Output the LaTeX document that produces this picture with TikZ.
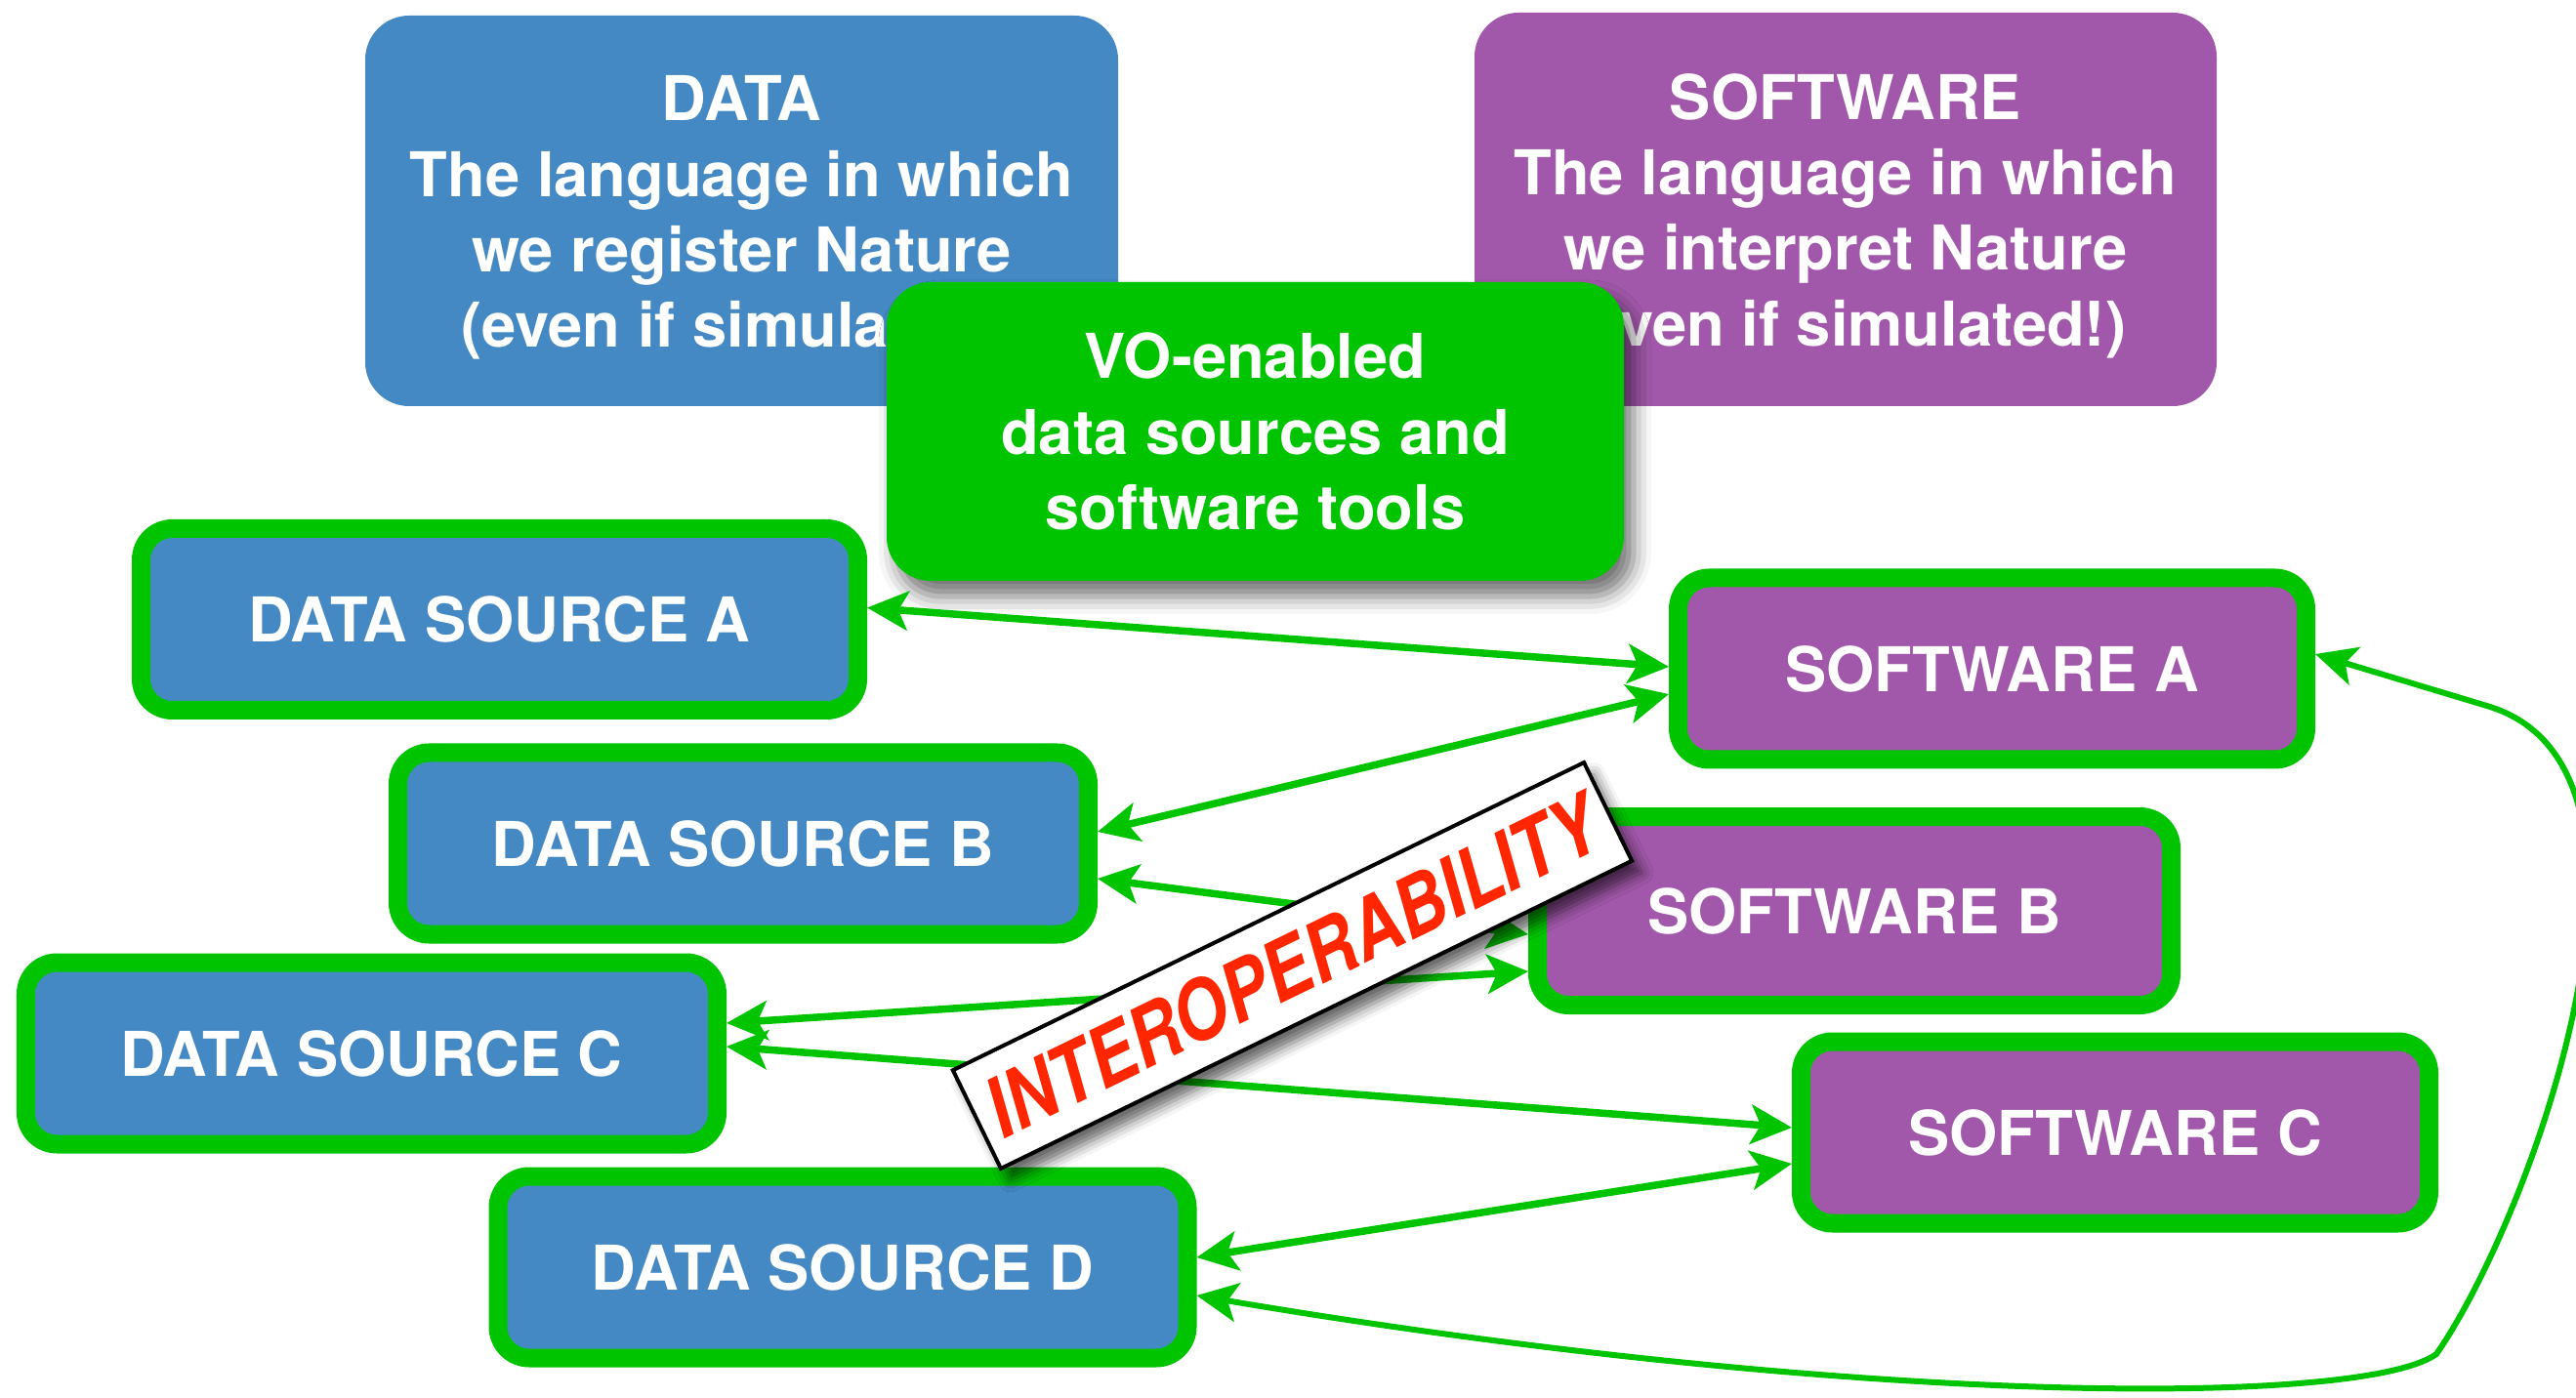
\documentclass[tikz,border=0pt]{standalone}
\usepackage{fontspec}
\setmainfont{TeX Gyre Heros}
\newfontfamily\bannerfont[FakeStretch=0.84]{TeX Gyre Heros}
\usetikzlibrary{arrows.meta,calc,positioning,shadows,shadows.blur}

\definecolor{vogreen}{RGB}{0,196,0}
\definecolor{datablue}{RGB}{69,137,196}
\definecolor{softpurple}{RGB}{162,88,170}
\definecolor{interred}{RGB}{255,38,0}

\begin{document}
\begin{tikzpicture}[
	bigbox/.style={rounded corners=0.45cm, text=white, align=center, inner sep=0pt, font=\fontsize{18}{22}\selectfont\bfseries},
	srcbox/.style={draw=vogreen, line width=0.19cm, rounded corners=0.32cm, minimum height=1.86cm, text=white, inner sep=0pt, font=\fontsize{18}{22}\selectfont\bfseries},
	link/.style={vogreen, line width=0.075cm, >={Stealth[length=0.42cm,width=0.4cm,inset=0.1cm]}, <->},
	banner/.style={draw=black, line width=0.04cm, fill=white, rotate=26, minimum width=7.19cm, minimum height=1.12cm, inner sep=0pt, text=interred, font=\bannerfont\fontsize{24}{24}\selectfont\bfseries\itshape}
]
	\path[use as bounding box, clip] (0,0) rectangle (26.38,14.31);

	% Place nodes
	\node [bigbox, fill=datablue, minimum width=7.71cm, minimum height=4cm] (data) at (7.595,12.15) {\rule{0pt}{0.6cm}DATA\\The language in which\\we register Nature\\(even if simulated!)};
	\node [bigbox, fill=softpurple, minimum width=7.6cm, minimum height=4.03cm] (software) at (18.9,12.165) {\rule{0pt}{0.6cm}SOFTWARE\\The language in which\\we interpret Nature\\(even if simulated!)};
	\node [bigbox, fill=vogreen, minimum width=7.55cm, minimum height=3.06cm, blur shadow={shadow xshift=0.1cm, shadow yshift=-0.16cm, shadow blur radius=0.18cm, shadow opacity=55}] (vo) at (12.855,9.89) {VO-enabled\\data sources and\\software tools};

	\node [srcbox, fill=datablue, minimum width=7.34cm] (dsa) at (5.115,7.965) {DATA SOURCE A};
	\node [srcbox, fill=datablue, minimum width=7.07cm] (dsb) at (7.61,5.67) {DATA SOURCE B};
	\node [srcbox, fill=datablue, minimum width=7.08cm] (dsc) at (3.805,3.52) {DATA SOURCE C};
	\node [srcbox, fill=datablue, minimum width=7.06cm] (dsd) at (8.63,1.33) {DATA SOURCE D};

	\node [srcbox, fill=softpurple, minimum width=6.43cm] (swa) at (20.4,7.46) {SOFTWARE A};
	\node [srcbox, fill=softpurple, minimum width=6.49cm, minimum height=1.93cm] (swb) at (18.99,4.98) {SOFTWARE B};
	\node [srcbox, fill=softpurple, minimum width=6.43cm] (swc) at (21.66,2.71) {SOFTWARE C};

	% Draw edges
	\draw [link] ([yshift=0.12cm]dsa.east) -- ([yshift=0.02cm]swa.west);
	\draw [link] ([yshift=-0.26cm]swa.west) -- ([yshift=0.12cm]dsb.east);
	\draw [link] ([yshift=-0.36cm]dsb.east) -- ([yshift=-0.24cm]swb.west);
	\draw [link] ([yshift=0.31cm]dsc.east) -- ([yshift=-0.62cm]swb.west);
	\draw [link] ([yshift=0.07cm]dsc.east) -- ([yshift=0.05cm]swc.west);
	\draw [link] ([yshift=0.1cm]dsd.east) -- ([yshift=-0.32cm]swc.west);
	\draw [link, line width=0.06cm] ([yshift=-0.29cm]dsd.east) .. controls (19,-0.1) and (24.2,-0.1) .. (24.95,0.44)
		.. controls (25.9,1.8) and (27.6,6.4) .. (25.5,7.07) -- ([yshift=0.15cm]swa.east);

	% Banner on top
	\node [banner, blur shadow={shadow xshift=0.1cm, shadow yshift=-0.12cm, shadow blur radius=0.12cm, shadow opacity=60}] (interop) at (13.235,4.42) {INTEROPERABILITY};
\end{tikzpicture}
\end{document}
